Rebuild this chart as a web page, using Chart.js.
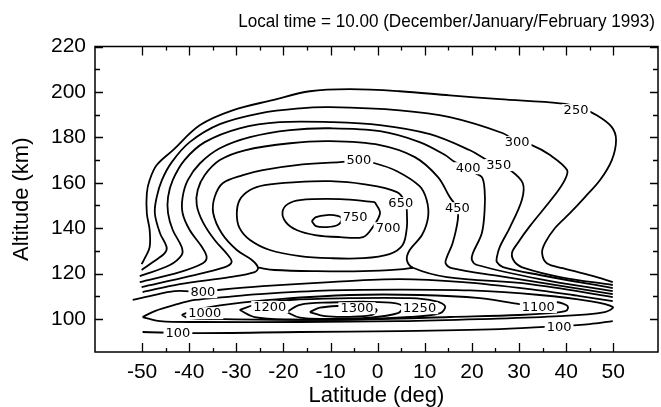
<!DOCTYPE html>
<html>
<head>
<meta charset="utf-8">
<script src="https://cdn.jsdelivr.net/npm/chart.js@4/dist/chart.umd.min.js"></script>
<style>
  html, body { margin: 0; padding: 0; background: #fff; }
</style>
</head>
<body>
<canvas id="chart" width="661" height="407"></canvas>
<script>
// contour lines, each point is [latitude (deg), altitude (km)]
const c250 = [[-50.1,124.2],[-49.4,126.9],[-48.4,131.7],[-48.4,139.2],[-49.0,146.6],[-49.0,155.4],[-48.4,161.2],[-46.9,167.8],[-43.5,174.3],[-37.7,185.4],[-30.8,191.9],[-22.3,196.4],[-14.4,200.3],[-5.9,201.2],[4.7,200.3],[15.3,198.5],[25.9,196.8],[38.7,195.0],[42.5,193.5],[46.5,189.7],[49.7,184.5],[50.6,178.8],[49.7,170.0],[47.2,161.2],[44.0,153.7],[40.8,146.6],[37.6,140.0],[35.5,133.4],[34.9,129.0],[35.9,124.6],[39.3,122.4],[46.5,118.5],[49.9,116.3]];
const c300 = [[-50.1,121.6],[-47.7,125.1],[-45.2,129.0],[-44.8,131.7],[-46.2,137.8],[-47.3,146.6],[-46.9,153.7],[-45.8,161.2],[-43.7,169.1],[-39.9,177.9],[-33.5,185.8],[-25.0,190.6],[-16.5,192.8],[-10.1,193.3],[4.7,191.9],[15.3,188.9],[26.6,181.8],[29.6,178.0],[32.7,176.6],[36.6,172.2],[40.2,165.6],[39.7,161.2],[37.6,154.6],[32.3,140.9],[29.7,133.4],[28.5,129.0],[29.1,125.1],[31.2,122.4],[38.7,118.5],[49.9,115.0]];
const c350 = [[-50.5,118.9],[-44.1,123.8],[-41.6,128.2],[-41.6,131.7],[-43.5,139.2],[-44.5,146.6],[-44.5,153.7],[-43.5,161.2],[-41.0,170.0],[-36.7,177.9],[-29.3,184.0],[-20.8,186.7],[-10.1,186.7],[0.5,185.4],[11.1,181.4],[19.6,174.3],[23.3,169.9],[25.7,167.8],[28.1,165.6],[30.8,159.8],[30.6,152.4],[28.1,140.5],[25.9,131.7],[25.3,127.3],[25.3,125.1],[26.6,122.9],[34.4,119.4],[49.9,113.6]];
const c400 = [[-50.5,116.3],[-42.0,120.7],[-37.1,124.6],[-36.3,127.3],[-37.3,131.7],[-39.9,139.2],[-41.4,146.6],[-41.4,153.7],[-40.3,161.2],[-37.7,168.6],[-33.5,175.2],[-27.1,180.1],[-18.6,183.2],[-10.1,184.0],[0.5,182.7],[8.9,177.9],[14.3,172.2],[16.4,169.1],[19.2,166.4],[20.2,164.7],[22.1,162.5],[22.7,156.8],[22.7,148.0],[22.1,137.8],[20.2,129.0],[20.0,126.0],[21.1,123.8],[34.4,117.6],[49.9,112.3]];
const c450 = [[-50.1,114.1],[-39.9,118.9],[-32.4,122.9],[-31.0,125.1],[-31.8,128.2],[-34.6,134.8],[-37.1,142.7],[-38.4,150.2],[-38.2,156.8],[-36.7,163.4],[-33.5,170.0],[-28.2,174.3],[-18.6,177.4],[-10.1,178.3],[0.5,176.6],[7.9,171.3],[12.8,162.5],[15.3,153.7],[16.9,148.8],[17.0,143.6],[15.9,133.4],[14.7,127.3],[14.4,124.6],[15.7,122.4],[25.9,118.9],[49.9,111.0]];
const c500 = [[-49.9,111.9],[-42.0,115.4],[-31.4,118.5],[-26.1,120.7],[-25.4,122.6],[-26.7,126.0],[-29.9,130.4],[-33.1,137.8],[-34.9,146.6],[-34.6,153.7],[-32.9,159.8],[-28.6,163.4],[-24.4,165.6],[-17.2,167.8],[-8.0,169.1],[-4.0,169.6],[-0.6,168.6],[4.1,165.1],[8.9,158.5],[10.4,152.4],[10.7,144.9],[9.4,137.0],[6.8,130.4],[6.2,126.0],[7.5,122.6],[14.7,118.5],[32.3,115.4],[49.9,109.7]];
// lower edge of the 500 loop, between the two saddles
const c500low = [[-25.4,122.6],[-21.9,121.6],[-12.9,121.1],[-3.1,121.1],[4.7,121.9],[7.5,122.6]];
const c650 = [[6.2,147.1],[6.2,140.5],[5.3,132.6],[2.5,128.6],[-3.1,126.8],[-10.1,126.8],[-16.5,127.7],[-22.9,130.4],[-27.1,134.8],[-29.3,140.0],[-29.9,146.2],[-29.3,152.4],[-27.1,156.8],[-24.0,159.0],[-17.2,160.3],[-10.1,160.7],[-3.1,159.4],[4.1,155.9],[6.0,151.0],[6.2,147.1]];
const c700 = [[-0.6,151.5],[-8.0,152.8],[-16.5,152.4],[-19.1,150.6],[-20.2,147.1],[-19.5,142.7],[-17.2,139.2],[-13.3,137.0],[-8.0,136.1],[-3.1,136.1],[-1.2,140.0],[0.5,146.6],[-0.6,151.5]];
const c750 = [[-14.0,143.1],[-13.1,144.9],[-10.8,145.8],[-8.5,145.4],[-7.6,144.0],[-8.5,141.4],[-10.8,140.5],[-13.1,140.9],[-14.0,143.1]];
const c800 = [[-52.0,108.4],[-48.4,110.1],[-43.1,112.3],[-37.1,112.0],[-33.9,112.8],[-24.4,114.5],[-10.1,116.3],[4.7,117.6],[18.1,116.3],[32.3,113.2],[42.9,110.1],[49.9,107.9]];
const c1000 = [[-49.9,100.9],[-47.3,103.5],[-43.1,106.2],[-38.8,108.4],[-32.4,109.7],[-25.0,111.0],[-10.1,112.6],[4.7,113.0],[19.6,112.6],[34.4,110.6],[45.0,107.9],[49.9,105.3],[48.2,103.1],[38.7,101.3],[21.7,100.0],[4.7,99.1],[-16.5,98.7],[-37.7,98.7],[-46.2,99.1],[-49.9,100.9]];
const c1100 = [[-41.6,101.8],[-38.8,104.0],[-31.4,106.6],[-20.8,108.8],[-5.9,110.6],[8.9,110.6],[21.7,109.2],[30.1,106.6],[34.0,105.7],[37.6,107.5],[40.0,106.2],[40.4,104.8],[39.8,103.5],[36.6,102.6],[30.1,101.8],[15.3,100.9],[0.5,100.0],[-16.5,99.6],[-33.9,100.0],[-40.1,100.4],[-41.6,101.8]];
const c1200 = [[-29.3,104.0],[-26.1,106.2],[-18.6,108.4],[-5.9,109.2],[6.9,109.2],[12.2,107.9],[14.3,105.7],[13.3,102.6],[6.8,100.9],[-5.9,99.8],[-18.6,99.8],[-26.1,100.9],[-29.3,104.0]];
const c1250 = [[-19.3,103.1],[-16.5,106.3],[-10.1,107.3],[-1.7,107.6],[3.6,107.0],[5.3,105.3],[4.3,102.6],[-1.7,100.6],[-10.1,100.1],[-16.5,100.6],[-19.3,103.1]];
const c1300 = [[-14.4,103.1],[-12.3,105.0],[-8.0,105.8],[-3.8,105.8],[-1.2,105.0],[-0.2,104.0],[-1.2,101.8],[-5.9,101.0],[-11.2,101.3],[-14.4,103.1]];
const c100 = [[-49.9,94.3],[-39.2,93.8],[-16.5,94.3],[4.7,94.7],[25.9,95.6],[38.7,96.9],[45.0,97.8],[49.9,99.1]];

const contourLines = [c250, c300, c350, c400, c450, c500, c500low, c650, c700, c750,
                      c800, c1000, c1100, c1200, c1250, c1300, c100];

// contour labels as printed on the plot
const labelText = ['250', '300', '350', '400', '450', '500', '650', '700', '750',
                   '800', '1000', '1200', '1300', '1250', '1100', '100', '100'];
const labelLat  = [42.1, 29.6, 25.7, 19.2, 16.9, -4.0, 4.9, 2.2, -4.8,
                   -37.1, -36.7, -22.9, -4.4, 8.9, 34.1, -42.4, 38.5];
const labelAlt  = [192.0, 177.9, 167.8, 166.4, 148.8, 170.0, 151.0, 140.0, 144.9,
                   111.8, 102.6, 105.3, 104.8, 104.8, 105.3, 93.6, 96.5];

const latMajor = [-50, -40, -30, -20, -10, 0, 10, 20, 30, 40, 50];
const latMinor = [-45, -35, -25, -15, -5, 5, 15, 25, 35, 45];
const altMajor = [100, 120, 140, 160, 180, 200, 220];
const altMinor = [110, 130, 150, 170, 190, 210];

const titleText = 'Local time = 10.00 (December/January/February 1993)';

const FONT = '"Liberation Sans", Arial, Helvetica, sans-serif';

// title (narrow, right aligned), frame, inward ticks and the contour labels
const framePlugin = {
    id: 'frame',
    afterDatasetsDraw(chart) {
        const ctx = chart.ctx;
        const xs = chart.scales.x, ys = chart.scales.y;
        ctx.save();
        ctx.font = '13px "DejaVu Sans", sans-serif';
        ctx.textAlign = 'center';
        ctx.textBaseline = 'middle';
        labelText.forEach((t, i) => {
            const px = xs.getPixelForValue(labelLat[i]);
            const py = ys.getPixelForValue(labelAlt[i]);
            const w = ctx.measureText(t).width;
            ctx.fillStyle = '#fff';
            ctx.fillRect(px - w / 2 - 2, py - 6, w + 4, 12);
            ctx.fillStyle = '#000';
            ctx.fillText(t, px, py + 0.5);
        });
        ctx.restore();
    },
    afterDraw(chart) {
        const ctx = chart.ctx;
        const a = chart.chartArea;
        const xs = chart.scales.x, ys = chart.scales.y;
        ctx.save();
        ctx.strokeStyle = '#000';
        ctx.lineWidth = 1.5;
        ctx.strokeRect(a.left, a.top, a.right - a.left, a.bottom - a.top);
        ctx.lineWidth = 1.3;
        ctx.beginPath();
        const xTick = (v, len) => {
            const px = Math.round(xs.getPixelForValue(v)) + 0.5;
            ctx.moveTo(px, a.bottom); ctx.lineTo(px, a.bottom - len);
            ctx.moveTo(px, a.top); ctx.lineTo(px, a.top + len);
        };
        const yTick = (v, len) => {
            const py = Math.round(ys.getPixelForValue(v)) + 0.5;
            ctx.moveTo(a.left, py); ctx.lineTo(a.left + len, py);
            ctx.moveTo(a.right, py); ctx.lineTo(a.right - len, py);
        };
        latMajor.forEach(v => xTick(v, 9));
        latMinor.forEach(v => xTick(v, 4));
        altMajor.forEach(v => yTick(v, 8));
        altMinor.forEach(v => yTick(v, 5));
        ctx.stroke();

        // title: the original uses a narrow sans, so squeeze it a little
        ctx.fillStyle = '#000';
        ctx.font = '19px ' + FONT;
        ctx.textAlign = 'right';
        ctx.textBaseline = 'middle';
        ctx.translate(a.right - 3, 22);
        ctx.scale(0.9, 1);
        ctx.fillText(titleText, 0, 0);
        ctx.restore();
    }
};

new Chart(document.getElementById('chart'), {
    type: 'scatter',
    data: {
        datasets: contourLines.map(line => ({
            data: line.map(p => ({ x: p[0], y: p[1] })),
            showLine: true,
            borderColor: '#000',
            borderWidth: 1.8,
            pointRadius: 0,
            tension: 0.35,
            fill: false
        }))
    },
    options: {
        responsive: false,
        animation: false,
        events: [],
        layout: { padding: { top: 46.5, right: 3, bottom: 0, left: 0 } },
        plugins: {
            legend: { display: false },
            tooltip: { enabled: false },
            title: { display: false }
        },
        scales: {
            x: {
                type: 'linear',
                min: -60,
                max: 59.5,
                afterBuildTicks: s => { s.ticks = latMajor.map(v => ({ value: v })); },
                afterFit: s => { s.height = 55; },
                grid: { display: false, drawTicks: false },
                border: { display: false },
                ticks: {
                    color: '#000',
                    padding: 9.5,
                    maxRotation: 0,
                    autoSkip: false,
                    font: { family: FONT, size: 21, lineHeight: 1 }
                },
                title: {
                    display: true,
                    text: 'Latitude (deg)',
                    color: '#000',
                    font: { family: FONT, size: 22, lineHeight: 1 },
                    padding: { top: 0, bottom: 0 }
                }
            },
            y: {
                type: 'linear',
                min: 85.5,
                max: 220,
                afterBuildTicks: s => { s.ticks = altMajor.map(v => ({ value: v })); },
                afterFit: s => { s.width = 95; },
                grid: { display: false, drawTicks: false },
                border: { display: false },
                ticks: {
                    color: '#000',
                    padding: 9,
                    font: { family: FONT, size: 21, lineHeight: 1 }
                },
                title: {
                    display: true,
                    text: 'Altitude (km)',
                    color: '#000',
                    font: { family: FONT, size: 22, lineHeight: 1 },
                    padding: { top: 11, bottom: 0 }
                }
            }
        }
    },
    plugins: [framePlugin]
});
</script>
</body>
</html>
